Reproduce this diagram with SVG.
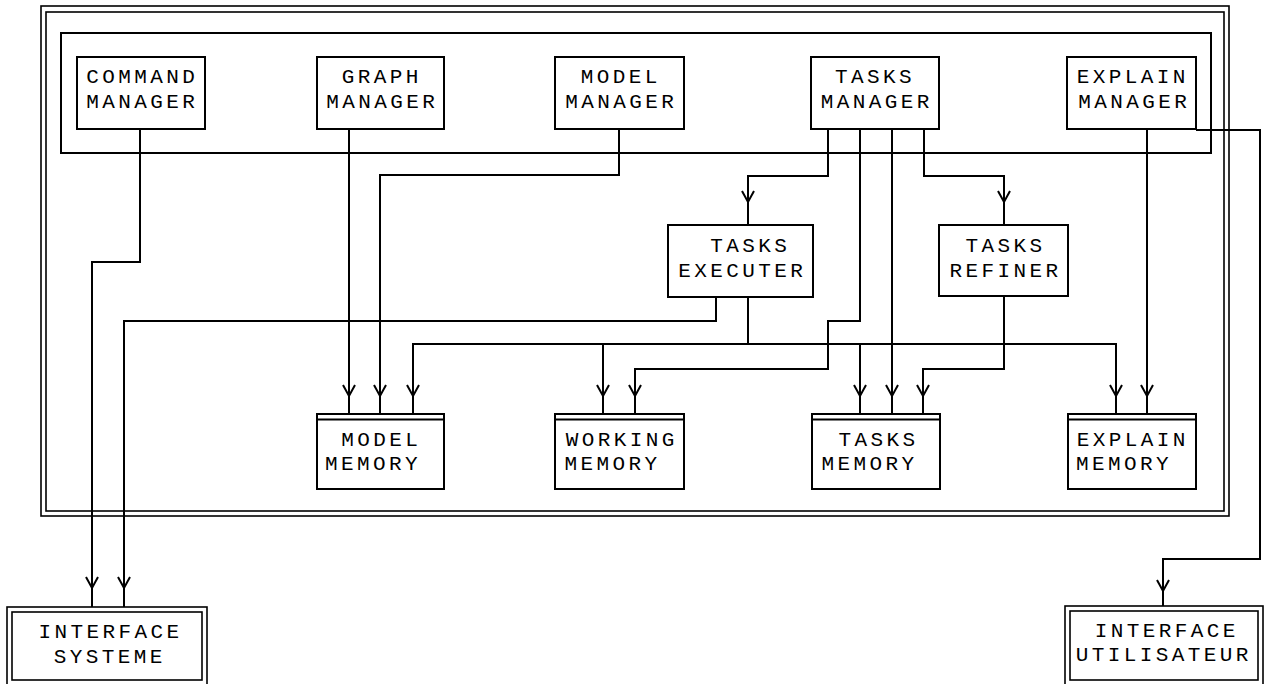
<svg xmlns="http://www.w3.org/2000/svg" xmlns:xlink="http://www.w3.org/1999/xlink" width="1268" height="684" viewBox="0 0 1268 684">
<style>
.bg{fill:#fff}
.box{fill:none;stroke:#000;stroke-width:2}
.frame{fill:none;stroke:#000;stroke-width:1.6}
.ln{fill:none;stroke:#000;stroke-width:2;stroke-linejoin:miter}
.t{font-family:"Liberation Mono","DejaVu Sans Mono",monospace;font-size:21px;letter-spacing:3.4px;text-anchor:middle;fill:#000}
</style>
<defs>
<path id="ah" d="M-6,-11 L0,0 L6,-11" fill="none" stroke="#000" stroke-width="2"/>
</defs>
<rect class="bg" x="0" y="0" width="1268" height="684"/>
<g id="system-frame">
<rect class="frame" x="41" y="6" width="1188" height="510"/>
<rect class="frame" x="46" y="12" width="1178" height="499"/>
</g>
<g id="managers-frame">
<rect class="box" x="61" y="33" width="1150" height="120"/>
</g>
<g id="command-manager">
<rect class="box" x="77" y="57" width="128" height="72"/>
<text class="t" x="142.2" y="83">COMMAND</text>
<text class="t" x="142.2" y="108">MANAGER</text>
</g>
<g id="graph-manager">
<rect class="box" x="317" y="57" width="127" height="72"/>
<text class="t" x="381.7" y="83">GRAPH</text>
<text class="t" x="382.2" y="108">MANAGER</text>
</g>
<g id="model-manager">
<rect class="box" x="555" y="57" width="129" height="72"/>
<text class="t" x="620.7" y="83">MODEL</text>
<text class="t" x="621.2" y="108">MANAGER</text>
</g>
<g id="tasks-manager">
<rect class="box" x="811" y="57" width="128" height="72"/>
<text class="t" x="875" y="83">TASKS</text>
<text class="t" x="876.7" y="108">MANAGER</text>
</g>
<g id="explain-manager">
<rect class="box" x="1067" y="57" width="129" height="72"/>
<text class="t" x="1132.7" y="83">EXPLAIN</text>
<text class="t" x="1134.2" y="108">MANAGER</text>
</g>
<g id="tasks-executer">
<rect class="box" x="668" y="225" width="145" height="72"/>
<text class="t" x="750.2" y="252">TASKS</text>
<text class="t" x="742.2" y="277">EXECUTER</text>
</g>
<g id="tasks-refiner">
<rect class="box" x="939" y="225" width="129" height="71"/>
<text class="t" x="1005.5" y="252">TASKS</text>
<text class="t" x="1005.5" y="277">REFINER</text>
</g>
<g id="model-memory">
<rect class="box" x="317" y="414" width="127" height="75"/>
<line class="box" x1="317" y1="419.5" x2="444" y2="419.5"/>
<text class="t" x="381.2" y="446">MODEL</text>
<text class="t" x="373" y="470">MEMORY</text>
</g>
<g id="working-memory">
<rect class="box" x="555" y="414" width="129" height="75"/>
<line class="box" x1="555" y1="419.5" x2="684" y2="419.5"/>
<text class="t" x="621.7" y="446">WORKING</text>
<text class="t" x="612.5" y="470">MEMORY</text>
</g>
<g id="tasks-memory">
<rect class="box" x="812" y="414" width="128" height="75"/>
<line class="box" x1="812" y1="419.5" x2="940" y2="419.5"/>
<text class="t" x="878.5" y="446">TASKS</text>
<text class="t" x="869.4" y="470">MEMORY</text>
</g>
<g id="explain-memory">
<rect class="box" x="1068" y="414" width="128" height="75"/>
<line class="box" x1="1068" y1="419.5" x2="1196" y2="419.5"/>
<text class="t" x="1132.7" y="446">EXPLAIN</text>
<text class="t" x="1123.9" y="470">MEMORY</text>
</g>
<g id="interface-systeme">
<rect class="frame" x="7" y="607" width="200" height="80"/>
<rect class="frame" x="12" y="612" width="190" height="68"/>
<text class="t" x="110.4" y="638">INTERFACE</text>
<text class="t" x="109.7" y="663">SYSTEME</text>
</g>
<g id="interface-utilisateur">
<rect class="frame" x="1065" y="606" width="198" height="81"/>
<rect class="frame" x="1070" y="611" width="188" height="69"/>
<text class="t" x="1166.7" y="637">INTERFACE</text>
<text class="t" x="1163.7" y="661">UTILISATEUR</text>
</g>
<g id="connectors">
<path class="ln" d="M140,129 V262 H92 V607"/>
<path class="ln" d="M716,297 V321 H124 V607"/>
<path class="ln" d="M349,129 V414"/>
<path class="ln" d="M619,129 V175 H380 V414"/>
<path class="ln" d="M828,129 V176 H748 V225"/>
<path class="ln" d="M860,129 V321 H828 V369 H635 V414"/>
<path class="ln" d="M892,129 V414"/>
<path class="ln" d="M924,129 V176 H1004 V225"/>
<path class="ln" d="M1004,296 V369 H923 V414"/>
<path class="ln" d="M748,297 V344"/>
<path class="ln" d="M413,414 V344 H1116 V414"/>
<path class="ln" d="M603,344 V414"/>
<path class="ln" d="M860,344 V414"/>
<path class="ln" d="M1147,129 V414"/>
<path class="ln" d="M1196,130 H1260 V559 H1163 V606"/>
<use href="#ah" x="92" y="588"/>
<use href="#ah" x="124" y="588"/>
<use href="#ah" x="1163" y="591"/>
<use href="#ah" x="748" y="202"/>
<use href="#ah" x="1004" y="202"/>
<use href="#ah" x="349" y="396"/>
<use href="#ah" x="380" y="396"/>
<use href="#ah" x="413" y="396"/>
<use href="#ah" x="603" y="396"/>
<use href="#ah" x="635" y="396"/>
<use href="#ah" x="860" y="396"/>
<use href="#ah" x="892" y="396"/>
<use href="#ah" x="923" y="396"/>
<use href="#ah" x="1116" y="396"/>
<use href="#ah" x="1147" y="396"/>
</g>
</svg>
